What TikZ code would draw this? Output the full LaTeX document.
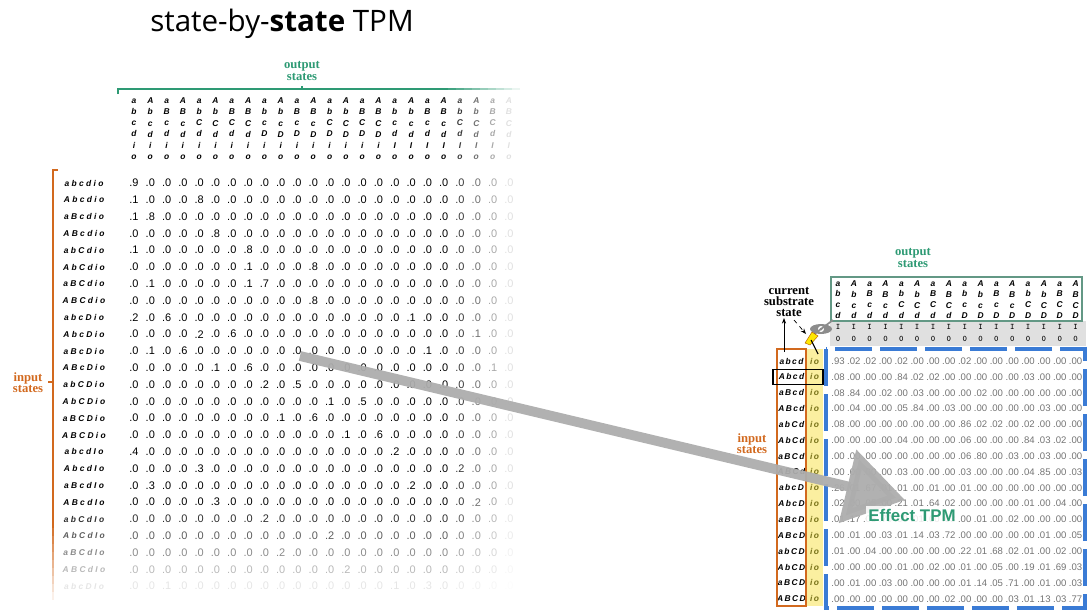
\documentclass[tikz,border=0pt]{standalone}
\usepackage{fontspec}
\setmainfont{Liberation Serif}
\setsansfont{Liberation Sans}
\newfontfamily\titlefont{Open Sans}
\usetikzlibrary{arrows.meta}
\definecolor{outgreen}{HTML}{2E9A74}
\definecolor{inorange}{HTML}{D2691E}
\definecolor{tpmblue}{HTML}{3A7BD5}
\definecolor{pinyellow}{HTML}{FBEFA0}
\newcommand{\pick}[4]{\pgfmathtruncatemacro\tmpbit{mod(floor(#1/#2),2)}\ifnum\tmpbit=1 #4\else #3\fi}
\begin{document}
\begin{tikzpicture}[x=0.025cm, y=-0.025cm, font=\sffamily]
	\tikzstyle{lab}=[inner sep=0pt, font=\sffamily\bfseries\itshape\fontsize{6}{8}\selectfont]
	\tikzstyle{elab}=[inner sep=0pt, font=\sffamily\bfseries\itshape\fontsize{6}{7.6}\selectfont]
	\tikzstyle{num}=[inner sep=0pt, font=\sffamily\fontsize{7.8}{8}\selectfont]
	\tikzstyle{enum}=[inner sep=0pt, text=black!55, font=\sffamily\fontsize{6.8}{7}\selectfont]
	\tikzstyle{head}=[align=center, font=\rmfamily\bfseries\fontsize{9}{9}\selectfont]
	\useasboundingbox (0,0) rectangle (1092,614);
	
	\node[font=\titlefont\fontsize{21}{24}\selectfont] (title) at (282,24) {state-by-\textbf{state} TPM};
	
	% state-by-state matrix
	\foreach \i/\j/\v in {0/0/.9, 1/0/.1, 1/4/.8, 2/0/.1, 2/1/.8, 3/5/.8, 4/0/.1, 4/7/.8, 5/7/.1, 5/11/.8,
		6/1/.1, 6/7/.1, 6/8/.7, 7/11/.8, 8/0/.2, 8/2/.6, 8/17/.1, 9/4/.2, 9/6/.6, 9/21/.1,
		10/1/.1, 10/3/.6, 10/18/.1, 11/5/.1, 11/7/.6, 11/22/.1, 12/8/.2, 12/10/.5, 13/12/.1, 13/14/.5,
		14/9/.1, 14/11/.6, 15/13/.1, 15/15/.6, 16/0/.4, 16/16/.2, 17/4/.3, 17/20/.2, 18/1/.3, 18/17/.2,
		19/5/.3, 19/21/.2, 20/8/.2, 21/12/.2, 22/9/.2, 23/13/.2, 24/2/.1, 24/16/.1, 24/18/.3}
		{\expandafter\xdef\csname lv\i-\j\endcsname{\v}}
	
	\foreach \j in {0,...,23}{
		\pgfmathsetmacro\cop{min(1,max(0.08,1-(\j-19)*0.22))}
		\node[lab, opacity=\cop, align=center] (col-\j) at (134+16.3*\j,129)
			{\pick{\j}{1}{a}{A}\\\pick{\j}{2}{b}{B}\\\pick{\j}{4}{c}{C}\\\pick{\j}{8}{d}{D}\\\pick{\j}{16}{i}{I}\\o};
	}
	\foreach \i in {0,...,24}{
		\pgfmathsetmacro\rop{min(1,max(0.1,1-(\i-19)*0.18))}
		\node[lab, opacity=\rop] (row-\i) at (84,183+16.8*\i)
			{\pick{\i}{1}{a}{A}\ \pick{\i}{2}{b}{B}\ \pick{\i}{4}{c}{C}\ \pick{\i}{8}{d}{D}\ \pick{\i}{16}{i}{I}\ o};
		\foreach \j in {0,...,23}{
			\pgfmathsetmacro\op{\rop*min(1,max(0.08,1-(\j-19)*0.22))}
			\node[num, opacity=\op] (m-\i-\j) at (134+16.3*\j,183+16.8*\i)
				{\ifcsname lv\i-\j\endcsname\csname lv\i-\j\endcsname\else.0\fi};
		}
	}
	
	% brackets
	\node[head, text=outgreen] (outL) at (302,71) {output\\[-1pt]states};
	\coordinate (ob0) at (118,94);
	\coordinate (ob1) at (440,89);
	\draw[outgreen, line width=0.8pt] (ob0) -- (118,89) -- (ob1);
	\draw[outgreen, line width=0.8pt] (302,89) -- (302,86);
	\foreach \k in {0,...,9}
		\draw[outgreen, line width=0.8pt, opacity=1-\k*0.1] (440+8*\k,89) -- (448+8*\k,89);
	\node[head, text=inorange] (inL) at (28,383) {input\\[-1pt]states};
	\draw[inorange, line width=0.8pt] (58,170) -- (53,170) -- (53,520);
	\draw[inorange, line width=0.8pt] (53,382) -- (48,382);
	\foreach \k in {0,...,9}
		\draw[inorange, line width=0.8pt, opacity=1-\k*0.1] (53,520+8*\k) -- (53,528+8*\k);
	
	% effect TPM
	\fill[black!12] (830,321) rectangle (1086,346);
	\draw[outgreen!70!black!70, line width=0.8pt] (831,277) rectangle (1082,321);
	\fill[pinyellow] (806,349) rectangle (823,606);
	\foreach \j in {0,...,15}{
		\node[elab, align=center] (ecol-\j) at (838+15.84*\j,300)
			{\pick{\j}{1}{a}{A}\\\pick{\j}{2}{b}{B}\\\pick{\j}{4}{c}{C}\\\pick{\j}{8}{d}{D}};
		\node[inner sep=0pt, font=\ttfamily\bfseries\fontsize{6}{8}\selectfont, align=center] (eio-\j) at (838+15.84*\j,333) {I\\0};
	}
	\node[head, text=outgreen] (outR) at (913,258) {output\\[-1pt]states};
	\foreach \row [count=\i from 0] in {
		{.93,.02,.02,.00,.02,.00,.00,.00,.02,.00,.00,.00,.00,.00,.00,.00},
		{.08,.00,.00,.00,.84,.02,.02,.00,.00,.00,.00,.00,.03,.00,.00,.00},
		{.08,.84,.00,.02,.00,.03,.00,.00,.00,.02,.00,.00,.00,.00,.00,.00},
		{.00,.04,.00,.00,.05,.84,.00,.03,.00,.00,.00,.00,.00,.03,.00,.00},
		{.08,.00,.00,.00,.00,.00,.00,.00,.86,.02,.02,.00,.02,.00,.00,.00},
		{.00,.00,.00,.00,.04,.00,.00,.00,.06,.00,.00,.00,.84,.03,.02,.00},
		{.00,.00,.00,.00,.00,.00,.00,.00,.06,.80,.00,.03,.00,.03,.00,.00},
		{.00,.00,.00,.00,.03,.00,.00,.00,.03,.00,.00,.00,.04,.85,.00,.03},
		{.26,.01,.67,.01,.01,.00,.01,.00,.01,.00,.00,.00,.00,.00,.00,.00},
		{.02,.00,.05,.00,.21,.01,.64,.02,.00,.00,.00,.00,.01,.00,.04,.00},
		{.01,.17,.05,.70,.00,.01,.00,.03,.00,.01,.00,.02,.00,.00,.00,.00},
		{.00,.01,.00,.03,.01,.14,.03,.72,.00,.00,.00,.00,.00,.01,.00,.05},
		{.01,.00,.04,.00,.00,.00,.00,.00,.22,.01,.68,.02,.01,.00,.02,.00},
		{.00,.00,.00,.00,.01,.00,.02,.00,.01,.00,.05,.00,.19,.01,.69,.03},
		{.00,.01,.00,.03,.00,.00,.00,.00,.01,.14,.05,.71,.00,.01,.00,.03},
		{.00,.00,.00,.00,.00,.00,.00,.02,.00,.00,.00,.03,.01,.13,.03,.77}}{
		\node[elab] (erow-\i) at (791.5,361+15.85*\i)
			{\pick{\i}{1}{a}{A}\,\pick{\i}{2}{b}{B}\,\pick{\i}{4}{c}{C}\,\pick{\i}{8}{d}{D}};
		\node[elab, text=olive!80!black] (eri-\i) at (814.5,361+15.85*\i) {i\,o};
		\foreach \v [count=\j from 0] in \row
			\node[enum] (e-\i-\j) at (838+15.84*\j,361+15.85*\i) {\v};
	}
	\draw[inorange, line width=0.8pt] (777,349) rectangle (806,606);
	\draw[line width=0.8pt] (773,369.5) rectangle (823,384.5);
	\draw[tpmblue, line width=3pt, dash pattern=on 26pt off 6pt] (826,349) rectangle (1085,608);
	\node[head, text=inorange] (inR) at (752,444) {input\\[-1pt]states};
	
	% current substrate state
	\node[head] (cur) at (789,302) {current\\[-1pt]substrate\\[-1pt]state};
	\coordinate (pin) at (810,341);
	\draw[-{Stealth[length=4pt]}, line width=0.6pt] (784,352) -- (784,318);
	\draw[dashed, -{Stealth[length=4pt]}, line width=0.5pt] (794,320) -- (806,334);
	\fill[black!45] (821,329) ellipse (11 and 5);
	\fill[white] (821,329) circle (3);
	\fill[black!45] (821,329) circle (1.5);
	\draw[black!45, line width=1.2pt] (809,338) -- (833,320);
	\fill[yellow!90!orange, draw=orange!70!black, line width=0.3pt] (pin) ++(-5,2) -- ++(7,-11) -- ++(6,4) -- ++(-8,9) -- cycle;
	\draw[line width=0.8pt] (pin) ++(1,-1) -- ++(7,14);
	
	% mapping arrow
	\coordinate (a0) at (300,356);
	\coordinate (a1) at (905,500);
	\draw[black!32, opacity=0.95, line width=7pt, -{Triangle[length=42pt, width=52pt]}] (a0) -- (a1);
	\node[font=\sffamily\bfseries\fontsize{12}{14}\selectfont, text=outgreen, fill=white, fill opacity=0.85, text opacity=1, inner sep=2pt] (eff) at (912,515) {Effect TPM};
\end{tikzpicture}
\end{document}
